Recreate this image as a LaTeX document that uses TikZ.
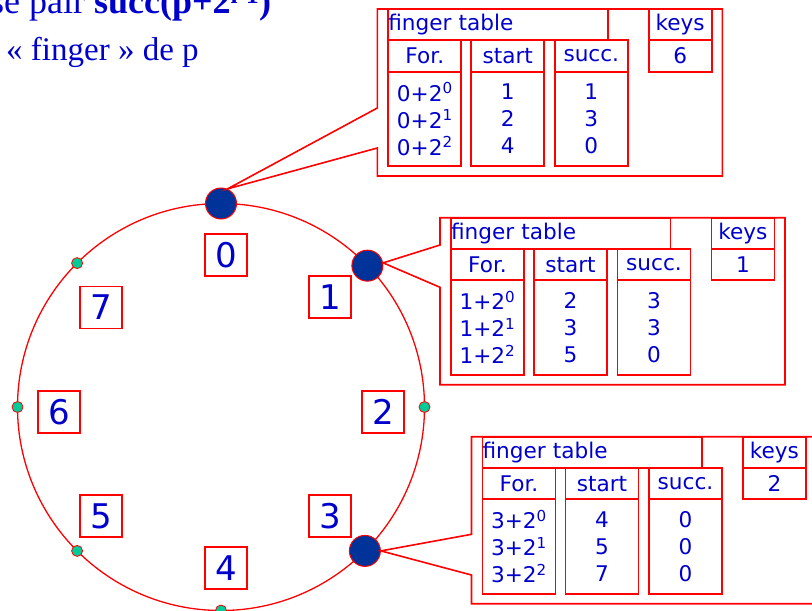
\documentclass[tikz,border=0pt]{standalone}
\usepackage{fontspec}
\setmainfont{Liberation Serif}
\newfontfamily\verdana{DejaVu Sans}
\usetikzlibrary{positioning}
\definecolor{RingRed}{RGB}{255,0,0}
\definecolor{TextBlue}{RGB}{0,0,204}
\definecolor{PeerBlue}{RGB}{0,51,153}
\definecolor{FreeGreen}{RGB}{0,204,153}

\begin{document}
\begin{tikzpicture}[
  x=1pt, y=-1pt,
  ring/.style={draw=RingRed, line width=1.3pt},
  peer/.style={circle, draw=RingRed, fill=PeerBlue, line width=1pt, minimum size=31pt, inner sep=0pt},
  slot/.style={circle, draw=RingRed, fill=FreeGreen, line width=0.8pt, minimum size=11pt, inner sep=0pt},
  idbox/.style={draw=RingRed, line width=1.4pt, minimum size=42pt, inner sep=0pt, text=TextBlue,
    font=\verdana\fontsize{34}{40}\selectfont},
  callout/.style={draw=RingRed, line width=1.6pt, line join=miter},
  cell/.style={draw=RingRed, line width=1.8pt, inner sep=0pt, outer sep=0pt, text=TextBlue,
    font=\verdana\fontsize{21.6}{27}\selectfont},
  colhead/.style={minimum width=73pt, minimum height=31.3pt},
  colbody/.style={minimum height=94.4pt, align=center},
  title/.style={inner sep=0pt, text=TextBlue}
]
\useasboundingbox (0,0) rectangle (812,611);

% Text above the ring
\node[title, anchor=base west, font=\fontsize{36}{40}\selectfont] (line1) at (-10,13)
  {se pair \textbf{succ(p+2\textsuperscript{i-1})}};
\node[title, anchor=base west, font=\fontsize{33}{38}\selectfont] (line2) at (6,60)
  {«~finger~» de p};

% Identifier ring
\coordinate (c) at (221,407);
\draw[ring] (c) circle (203.5pt);

% Free positions
\foreach \i/\a in {2/0, 4/270, 5/225, 6/180, 7/135} {
  \node[slot] (s\i) at ([shift={(\a:203.5pt)}]c) {};
}

% Peers
\foreach \i/\a in {0/90, 1/44, 3/-45} {
  \node[peer] (n\i) at ([shift={(\a:203.5pt)}]c) {};
}

% Identifiers
\foreach \i/\x/\y in {0/226/255, 1/330/297, 2/383/412, 3/330/516,
                      4/226/568, 5/101/516, 6/59/412, 7/101/307.5} {
  \node[idbox] (id\i) at (\x,\y) {\i};
}

% Finger tables of the peers
\foreach \id/\ox/\oy/\ang/\ya/\yb/\sa/\sb/\sc/\ua/\ub/\uc/\key in {
    0/377.3/9/66/99/139/1/2/4/1/3/0/6,
    1/440/217.7/10/27.3/69.6/2/3/5/3/3/0/1,
    3/471.5/436.7/0/97.6/138.3/4/5/7/0/0/0/2} {
  \begin{scope}[shift={(\ox,\oy)}]
    \draw[callout] (0,0) -- (345,0) -- (345,167) -- (0,167) -- (0,\yb)
      -- (n\id.\ang) -- (0,\ya) -- cycle;
    \node[cell, anchor=north west, minimum height=31.3pt, text width=219.4pt, align=left]
      (ft\id-title) at (11,0) {finger table};
    \node[cell, colhead, anchor=north west] (ft\id-for) at (11,31.3) {For.};
    \node[cell, colhead, anchor=north west] (ft\id-start) at (94,31.3) {start};
    \node[cell, colhead, anchor=north west] (ft\id-succ) at (177.5,31.3) {succ.};
    \node[cell, colhead, anchor=north west, minimum width=63pt] (ft\id-keys) at (271.4,0) {keys};
    \node[cell, colhead, minimum width=63pt, below=0pt of ft\id-keys] (ft\id-key) {\key};
    \node[cell, colhead, colbody, below=0pt of ft\id-for] (ft\id-forcol)
      {\id+2\textsuperscript{0}\\\id+2\textsuperscript{1}\\\id+2\textsuperscript{2}};
    \node[cell, colhead, colbody, below=0pt of ft\id-start] (ft\id-startcol)
      {\sa\\\sb\\\sc};
    \node[cell, colhead, colbody, below=0pt of ft\id-succ] (ft\id-succcol)
      {\ua\\\ub\\\uc};
  \end{scope}
}

\end{tikzpicture}
\end{document}
